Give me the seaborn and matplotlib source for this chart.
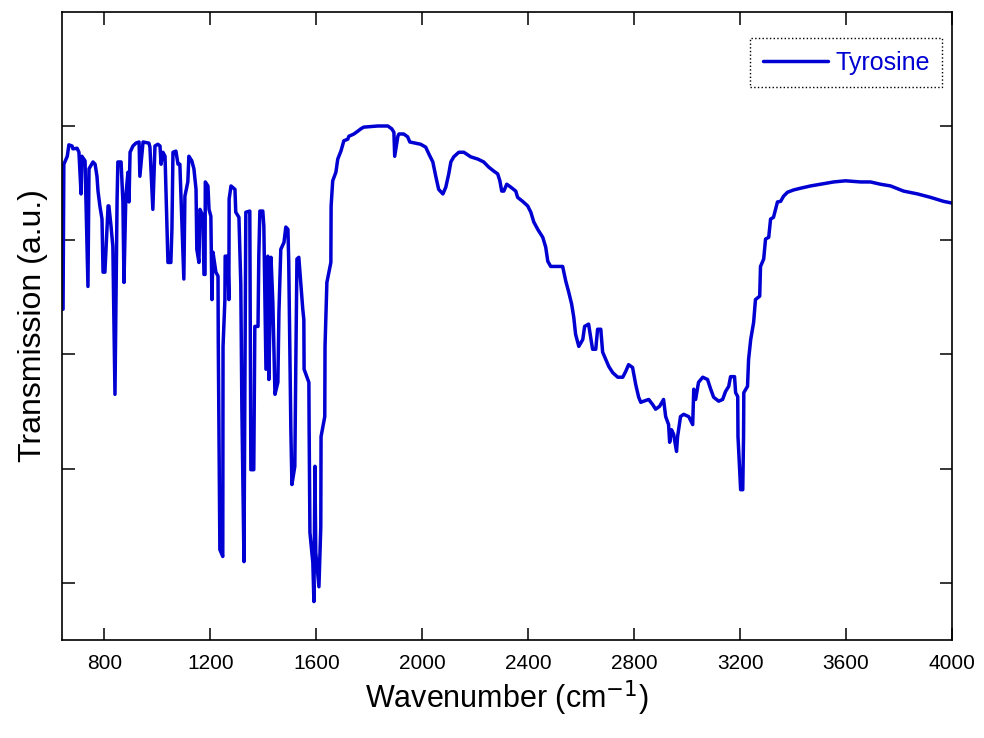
import matplotlib
matplotlib.use("Agg")
import matplotlib.pyplot as plt
import seaborn as sns
import pandas as pd

# FTIR spectrum of tyrosine
wavenumber = [
    644, 647, 660, 666, 678, 681, 697, 704, 708, 712, 715, 727, 738, 742, 757, 765,
    772, 776, 783, 791, 795, 802, 814, 817, 825, 832, 840, 848, 851, 863, 870, 874,
    881, 889, 893, 897, 908, 919, 931, 934, 946, 968, 972, 983, 991, 1002, 1010, 1014,
    1021, 1029, 1040, 1051, 1055, 1059, 1070, 1078, 1085, 1100, 1104, 1115, 1119, 1130,
    1138, 1146, 1149, 1153, 1157, 1161, 1172, 1176, 1180, 1181, 1191, 1195, 1202, 1206,
    1210, 1221, 1229, 1230, 1236, 1247, 1248, 1255, 1256, 1266, 1270, 1271, 1278, 1293,
    1296, 1308, 1315, 1319, 1327, 1334, 1349, 1353, 1364, 1368, 1380, 1383, 1387, 1398,
    1402, 1410, 1417, 1421, 1429, 1436, 1444, 1455, 1459, 1466, 1478, 1485, 1493, 1496,
    1504, 1508, 1519, 1523, 1527, 1534, 1549, 1553, 1554, 1572, 1573, 1576, 1587, 1591,
    1595, 1598, 1610, 1617, 1618, 1632, 1633, 1640, 1655, 1656, 1662, 1674, 1681, 1693,
    1704, 1719, 1723, 1742, 1757, 1768, 1779, 1832, 1870, 1885, 1893, 1896, 1908, 1912,
    1930, 1945, 1953, 1994, 2013, 2025, 2040, 2051, 2062, 2078, 2089, 2100, 2108, 2119,
    2138, 2157, 2183, 2210, 2232, 2251, 2270, 2285, 2293, 2300, 2308, 2319, 2334, 2353,
    2360, 2379, 2398, 2410, 2421, 2436, 2455, 2466, 2474, 2485, 2511, 2530, 2542, 2553,
    2564, 2572, 2579, 2591, 2606, 2613, 2628, 2643, 2655, 2662, 2674, 2681, 2693, 2704,
    2719, 2738, 2757, 2768, 2779, 2794, 2806, 2817, 2825, 2836, 2855, 2870, 2881, 2896,
    2911, 2919, 2930, 2934, 2941, 2949, 2960, 2964, 2975, 2987, 3006, 3021, 3025, 3032,
    3043, 3059, 3077, 3089, 3100, 3119, 3134, 3145, 3157, 3164, 3179, 3183, 3191, 3192,
    3202, 3210, 3213, 3214, 3228, 3232, 3240, 3251, 3258, 3274, 3277, 3289, 3296, 3308,
    3315, 3326, 3341, 3353, 3364, 3379, 3402, 3428, 3466, 3504, 3553, 3598, 3655, 3692,
    3730, 3768, 3817, 3870, 3919, 3968, 4000,
]
transmission = [
    57.9, 83.3, 84.7, 86.7, 86.5, 86.0, 86.1, 85.4, 81.9, 78.1, 84.7, 83.9, 61.9, 82.5, 83.7, 83.3,
    81.2, 78.6, 76.0, 73.7, 64.4, 64.4, 76.0, 76.0, 72.5, 68.9, 43.0, 77.2, 83.7, 83.7, 76.7, 62.6,
    77.7, 81.9, 76.7, 85.4, 86.5, 87.0, 87.2, 81.2, 87.2, 87.0, 86.3, 75.4, 86.5, 86.8, 86.5, 83.3,
    85.4, 84.7, 66.1, 66.1, 71.9, 85.4, 85.6, 83.3, 83.3, 63.2, 77.7, 80.2, 84.7, 83.9,
    82.5, 78.9, 68.4, 67.2, 66.1, 75.4, 74.2, 64.0, 64.0, 80.2, 79.5, 75.4, 74.2, 59.6,
    67.9, 64.4, 63.7, 52.1, 15.8, 14.6, 51.4, 59.6, 67.2, 67.2, 59.6, 77.2, 79.5, 78.9,
    74.9, 74.0, 62.3, 40.9, 13.7, 74.9, 75.1, 29.8, 29.8, 54.9, 54.9, 67.2, 75.1, 75.1,
    72.5, 47.4, 67.2, 45.6, 67.0, 59.1, 43.0, 45.1, 57.4, 68.4, 69.6, 72.3, 71.9, 66.1,
    36.8, 27.2, 30.4, 49.6, 66.7, 67.0, 57.9, 56.1, 47.4, 45.1, 36.8, 18.8, 13.5, 6.7,
    30.4, 15.3, 9.3, 19.8, 35.6, 39.1, 51.4, 62.6, 66.1, 76.0, 80.4, 81.9, 84.2, 85.6,
    87.4, 87.7, 88.2, 88.6, 89.1, 89.5, 89.8, 90.0, 90.0, 89.5, 88.9, 84.7, 88.2, 88.6,
    88.6, 88.1, 87.2, 86.8, 86.3, 85.1, 83.7, 81.2, 78.9, 78.1, 79.3, 81.6, 83.7, 84.6,
    85.4, 85.4, 84.6, 84.2, 83.7, 82.8, 82.1, 81.6, 80.4, 78.6, 78.6, 79.8, 79.3, 78.6,
    77.5, 76.8, 76.0, 74.9, 73.2, 71.9, 70.5, 68.8, 66.3, 65.4, 65.4, 65.4, 62.8, 60.9,
    58.8, 56.5, 53.5, 51.4, 52.6, 54.9, 55.3, 50.9, 50.9, 54.4, 54.4, 50.4, 49.1, 47.9,
    46.8, 46.0, 46.0, 47.0, 48.2, 47.7, 44.7, 42.5, 41.6, 41.8, 42.1, 41.2, 40.4, 40.9,
    42.1, 39.1, 37.7, 34.6, 36.8, 36.0, 33.0, 35.6, 39.1, 39.5, 39.1, 37.7, 43.9, 42.1,
    45.1, 46.0, 45.6, 43.9, 42.5, 41.8, 42.1, 43.5, 44.4, 46.1, 46.1, 43.3, 42.6, 35.6,
    26.3, 26.3, 35.6, 43.3, 44.4, 49.1, 52.6, 55.6, 59.6, 60.2, 65.4, 66.7, 70.2, 70.5,
    73.7, 74.0, 76.7, 76.8, 77.7, 78.4, 78.8, 79.1, 79.5, 79.8, 80.2, 80.4, 80.2, 80.2,
    79.8, 79.5, 78.6, 78.1, 77.5, 76.8, 76.5,
]
x_ticks = [800, 1200, 1600, 2000, 2400, 2800, 3200, 3600, 4000]
y_ticks = [10, 30, 50, 70, 90]

df = pd.DataFrame({"wavenumber": wavenumber, "transmission": transmission})

sns.set_style("ticks")
plt.rcParams["font.family"] = ["Liberation Sans", "DejaVu Sans"]

fig = plt.figure(figsize=(9.84, 7.38), dpi=100)
ax = fig.add_axes([0.063, 0.133, 0.9045, 0.851])

line_color = "#0000d2"
sns.lineplot(data=df, x="wavenumber", y="transmission", sort=False, estimator=None,
             color=line_color, linewidth=2.5, label="Tyrosine", ax=ax)

ax.set_xlim(640, 4000)
ax.set_ylim(0, 110)
ax.set_xticks(x_ticks)
ax.set_yticks(y_ticks)
ax.set_yticklabels([])
ax.tick_params(direction="in", length=9, width=1.1, labelsize=15,
               top=True, right=True, colors="black", pad=10)

for s in ax.spines.values():
    s.set_linewidth(1.2)
    s.set_color("black")

ax.set_xlabel("Wavenumber (cm$^{-1}$)", fontsize=22, labelpad=4, color="black")
ax.set_ylabel("Transmission (a.u.)", fontsize=23, labelpad=0, color="black")

leg = ax.legend(loc="upper right", bbox_to_anchor=(0.989, 0.958), fontsize=18,
                fancybox=False, framealpha=1, borderpad=0.5, handlelength=2.6,
                handletextpad=0.3, borderaxespad=0)
leg.get_frame().set_edgecolor("black")
leg.get_frame().set_linestyle(":")
leg.get_frame().set_linewidth(1.0)
for t in leg.get_texts():
    t.set_color(line_color)

fig.savefig("out.png", dpi=100)
